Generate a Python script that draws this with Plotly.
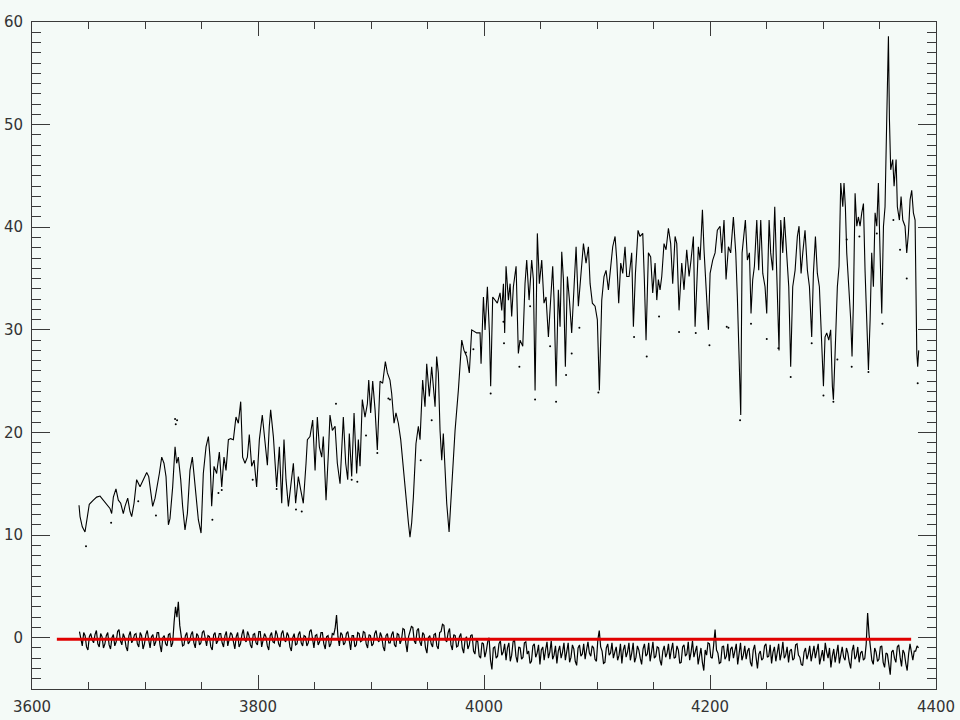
import plotly.graph_objects as go

# ---------------- data ----------------
# main spectrum: wavelength (Angstrom) and flux
spec_wave = [
    3641.6, 3642.5, 3644.5, 3646.9, 3649.0, 3650.7, 3654.3, 3657.2, 3660.2, 3663.1,
    3666.1, 3669.0, 3670.5, 3672.0, 3674.3, 3676.4, 3678.5, 3680.8, 3682.3, 3684.7,
    3686.7, 3688.2, 3690.3, 3692.6, 3695.6, 3698.5, 3701.5, 3703.3, 3705.0, 3706.8,
    3708.9, 3710.3, 3712.7, 3714.8, 3716.8, 3718.6, 3720.7, 3722.1, 3724.5, 3726.6,
    3728.0, 3729.5, 3731.6, 3733.3, 3735.4, 3737.5, 3739.8, 3741.9, 3744.3, 3747.2,
    3749.6, 3751.6, 3754.0, 3756.1, 3757.5, 3759.0, 3761.1, 3763.4, 3765.8, 3767.9,
    3769.9, 3771.7, 3773.8, 3775.8, 3778.2, 3780.5, 3782.6, 3784.7, 3786.4, 3788.5,
    3790.6, 3792.3, 3794.4, 3796.5, 3798.8, 3801.2, 3803.8, 3806.2, 3808.3, 3810.0,
    3811.2, 3813.6, 3816.5, 3818.9,
    3821.0, 3823.0, 3824.8, 3826.9, 3828.9, 3831.3, 3833.3, 3835.7, 3837.8, 3840.1,
    3842.5, 3843.7, 3846.0, 3848.4, 3850.5, 3852.5, 3854.3, 3856.4, 3857.8, 3860.2,
    3862.3, 3863.7, 3865.8, 3868.2, 3870.2, 3872.6, 3875.5, 3877.6, 3879.4, 3880.8,
    3882.9, 3885.0, 3887.3, 3888.8, 3890.3, 3892.3, 3894.7, 3896.8, 3898.0, 3899.7,
    3901.5, 3903.6, 3905.6, 3908.0, 3910.3, 3912.7, 3914.5, 3916.8, 3918.3, 3920.4,
    3922.1, 3924.2, 3926.3, 3928.6, 3931.0, 3933.1, 3934.5, 3936.0, 3937.5, 3939.8,
    3941.9, 3943.4, 3945.7, 3947.8, 3949.3, 3951.6, 3953.7, 3955.2, 3956.7, 3958.1,
    3959.6, 3961.1, 3962.6, 3964.0, 3965.5, 3967.0, 3969.1, 3970.5, 3972.3, 3974.4,
    3977.3, 3980.3, 3982.3, 3984.7, 3987.0, 3989.1, 3993.5,
    3996.5, 3997.4, 3999.5, 4000.9, 4003.0, 4004.8, 4005.9, 4007.7, 4009.8, 4011.8,
    4014.2, 4015.7, 4017.2, 4018.3, 4019.5, 4021.6, 4023.1, 4024.5, 4026.0, 4028.4,
    4030.4, 4031.9, 4034.3, 4036.3, 4037.8, 4039.9, 4042.2, 4043.7, 4045.2, 4047.2,
    4049.0, 4051.1, 4053.1, 4054.9, 4057.0, 4059.0, 4060.8, 4062.0, 4063.8, 4065.8,
    4067.3, 4068.8, 4070.3, 4072.0, 4073.8, 4075.6, 4077.6, 4079.7, 4081.5, 4083.5,
    4085.6, 4088.0, 4090.3, 4092.4, 4093.9, 4095.9, 4098.3, 4100.3, 4102.1, 4104.2,
    4106.2, 4108.0, 4110.1, 4112.1, 4113.9, 4116.0, 4117.5, 4119.2, 4121.0, 4122.8,
    4124.8, 4126.3, 4128.4, 4130.7, 4132.2, 4134.0, 4136.3, 4138.1, 4140.5, 4141.9,
    4143.4, 4145.5, 4147.5, 4149.3, 4151.4, 4152.9, 4154.3, 4155.8, 4157.3, 4159.3,
    4161.1, 4163.2, 4165.2, 4167.0, 4169.1, 4170.6, 4172.6, 4175.0, 4177.0, 4179.4,
    4181.5, 4183.2, 4185.3, 4186.8, 4188.3, 4189.7, 4191.2, 4193.3, 4194.7, 4196.5,
    4198.6, 4200.1, 4202.4, 4204.5, 4206.5,
    4208.9, 4210.4, 4212.4, 4214.2, 4216.3, 4218.3, 4220.7, 4222.8, 4224.2, 4226.0,
    4227.2, 4228.4, 4230.1, 4231.3, 4233.1, 4234.9, 4236.3, 4237.8, 4239.3, 4241.4,
    4243.1, 4244.9, 4246.7, 4248.7, 4250.2, 4252.3, 4253.7, 4255.5, 4257.3, 4258.5,
    4259.6, 4261.1, 4262.6, 4264.4, 4265.8, 4267.9, 4269.7, 4271.4, 4273.2, 4275.3,
    4277.3, 4278.8, 4280.6, 4282.1, 4284.1, 4286.2, 4288.0, 4290.0, 4291.5, 4293.3,
    4295.0, 4296.8, 4298.9, 4300.4, 4301.8, 4303.3, 4305.1, 4306.8, 4308.3, 4309.2,
    4310.7, 4312.7, 4314.2, 4315.7, 4317.5, 4318.6, 4319.8, 4321.0, 4322.8, 4324.5,
    4325.7, 4326.9, 4328.4, 4329.9, 4331.3, 4332.8, 4334.3, 4335.8, 4337.2, 4338.7,
    4340.2, 4341.7, 4343.1, 4344.6, 4346.1, 4347.6, 4349.0, 4350.5, 4352.0, 4353.5,
    4354.9, 4356.4, 4357.9, 4358.8, 4359.9, 4361.7, 4362.9, 4364.7, 4365.8, 4367.6,
    4369.1, 4370.6, 4372.6, 4374.1, 4375.6, 4377.1, 4378.5, 4380.0, 4381.5, 4383.0,
    4383.8, 4384.7,
]
spec_flux = [
    12.9, 11.8, 10.8, 10.3, 11.8, 13.0, 13.4, 13.7, 13.8, 13.4,
    13.1, 12.6, 12.1, 13.7, 14.5, 13.4, 13.1, 12.1, 12.8, 13.6,
    12.3, 11.8, 13.1, 15.4, 14.7, 15.4, 16.1, 15.7, 14.1, 12.8,
    13.6, 14.4, 16.0, 17.6, 17.0, 15.7, 11.0, 11.6, 14.7, 18.6,
    17.0, 17.6, 15.4, 12.8, 10.5, 12.1, 16.3, 17.6, 14.7, 11.5,
    10.2, 16.0, 18.6, 19.6, 17.6, 12.8, 16.7, 16.0, 18.1, 14.7,
    17.6, 16.3, 19.3, 19.4, 19.3, 21.5, 20.9, 23.0, 17.6, 17.0,
    17.6, 19.8, 16.7, 17.3, 14.7, 19.3, 21.7, 19.3, 16.8, 20.6,
    22.2, 19.6, 14.7, 18.6,
    13.1, 19.3, 15.4, 12.8, 15.0, 17.0, 13.1, 15.7, 14.4, 13.1,
    17.0, 19.3, 19.6, 21.2, 16.3, 21.5, 18.6, 17.6, 19.6, 13.4,
    18.0, 21.7, 20.2, 20.6, 17.0, 15.0, 21.5, 17.0, 15.4, 19.9,
    15.7, 21.9, 16.0, 19.3, 16.7, 23.2, 21.5, 22.8, 25.1, 21.9,
    25.0, 22.2, 18.3, 25.0, 24.8, 26.9, 25.8, 25.1, 23.8, 20.9,
    21.9, 20.9, 19.3, 16.3, 13.7, 11.2, 9.8, 11.2, 13.7, 18.9,
    20.6, 19.3, 25.1, 22.5, 26.7, 23.5, 26.4, 24.1, 22.5, 27.4,
    25.8, 20.2, 17.3, 19.9, 16.0, 13.1, 10.3, 13.1, 16.3, 20.2,
    24.1, 29.0, 28.0, 27.4, 25.8, 30.0, 29.7,
    29.7, 26.7, 33.2, 30.0, 34.2, 29.7, 24.5, 33.2, 32.9, 32.6,
    33.6, 31.9, 34.5, 29.7, 36.2, 32.9, 34.5, 31.3, 34.2, 36.2,
    27.7, 29.0, 28.4, 34.5, 36.8, 32.9, 36.8, 34.9, 24.1, 39.4,
    34.5, 36.8, 32.6, 33.2, 29.3, 32.9, 36.2, 32.9, 24.5, 33.9,
    30.3, 37.6, 34.9, 26.4, 35.2, 32.9, 29.7, 34.2, 38.1, 32.3,
    35.2, 38.4, 36.5, 38.1, 34.5, 32.6, 32.3, 31.0, 24.1, 32.9,
    35.2, 35.8, 33.9, 36.2, 38.1, 39.1, 36.8, 32.6, 36.5, 35.5,
    38.1, 35.2, 35.2, 37.5, 30.3, 35.5, 39.7, 39.1, 39.4, 34.9,
    29.0, 37.5, 37.1, 33.6, 36.5, 32.9, 34.9, 33.9, 35.2, 38.4,
    37.8, 39.9, 38.4, 34.5, 39.1, 38.4, 31.9, 36.5, 33.9, 37.8,
    35.2, 36.8, 39.1, 30.3, 33.6, 38.1, 36.8, 41.7, 37.8, 34.5,
    30.0, 35.5, 36.8, 37.5, 39.7,
    40.1, 37.5, 40.7, 34.9, 38.1, 37.5, 41.0, 37.5, 33.2, 26.1,
    21.7, 37.5, 39.1, 40.7, 36.8, 37.5, 31.6, 34.9, 36.2, 40.7,
    35.8, 40.7, 35.5, 34.2, 31.6, 40.7, 37.5, 35.8, 42.0, 37.5,
    34.2, 28.0, 40.7, 37.5, 41.0, 36.8, 34.2, 26.4, 34.2, 35.8,
    39.1, 40.1, 35.5, 37.5, 39.7, 35.8, 34.2, 29.3, 35.5, 39.1,
    35.5, 34.2, 28.4, 24.5, 29.3, 29.7, 29.0, 30.0, 24.5, 23.2,
    27.7, 34.2, 36.2, 44.3, 42.0, 44.3, 42.0, 37.5, 34.2, 31.0,
    27.4, 32.6, 43.3, 40.1, 41.0, 40.1, 41.4, 42.3, 35.8, 31.0,
    26.1, 31.0, 37.5, 34.2, 41.4, 40.1, 44.3, 37.5, 31.6, 40.1,
    42.0, 50.5, 58.6, 50.5, 45.6, 46.6, 44.0, 46.6, 42.0, 40.7,
    43.0, 40.7, 40.1, 37.5, 39.4, 42.7, 43.6, 41.4, 40.7, 27.7,
    26.4, 28.0,
]

# scattered dots drawn around the spectrum (second data set, plotted as points)
dot_wave = [
    3647.8, 3670.0, 3694.0, 3709.7, 3726.6, 3727.2, 3728.4, 3759.6, 3765.0, 3767.9,
    3795.3, 3816.5, 3833.6, 3838.7, 3869.0, 3882.9, 3887.9, 3895.6, 3905.6, 3915.4,
    3916.8, 3944.0, 3953.7, 3984.0, 3990.6, 4005.9, 4017.2, 4017.7, 4031.3, 4040.8,
    4045.2, 4058.5, 4063.8, 4072.6, 4077.6, 4084.4, 4101.2, 4132.8, 4144.0, 4154.9,
    4172.6, 4187.4, 4199.5, 4214.8, 4216.3, 4226.6, 4236.3, 4250.2, 4260.5, 4271.4,
    4290.0, 4300.4, 4309.2, 4312.7, 4321.0, 4325.4, 4332.2, 4340.2, 4347.6, 4352.6,
    4362.3, 4368.2, 4374.1, 4383.8,
]
dot_flux = [
    8.9, 11.2, 13.3, 11.9, 21.3, 20.8, 21.2, 11.5, 14.1, 14.4,
    15.4, 14.5, 12.5, 12.3, 22.8, 15.4, 15.2, 19.7, 18.0, 23.3,
    23.2, 17.3, 21.2, 27.8, 28.1, 23.8, 30.8, 28.7, 26.4, 32.3,
    23.2, 28.4, 23.0, 25.6, 27.7, 30.2, 23.9, 29.3, 27.4, 31.3,
    29.8, 29.7, 28.5, 30.3, 30.2, 21.2, 30.6, 29.1, 28.2, 25.4,
    28.7, 23.6, 23.0, 27.1, 38.8, 26.4, 39.1, 25.9, 39.4, 30.6,
    40.7, 37.8, 35.0, 24.8,
]

# residuals: sampled every 1.25 A starting at 3642 A
res_start = 3642.0
res_step = 1.25
res_flux = [
    0.6, -0.3, -0.8, 0.5, 0.2, -0.9, -1.2, 0.1, 0.4, -0.2, -0.5, 0.3, 0.7, -0.6, -0.9, 0.4, 0.1, -1.0, -0.6, 0.2,
    0.5, -0.7, -1.1, 0.0, 0.3, -0.8, -0.4, 0.6, 0.8, -0.3, -0.7, 0.4, 0.0, -0.9, -1.3, 0.2, 0.6, -0.5, -0.2, 0.3,
    0.4, -0.6, -0.9, 0.5, 0.2, -1.1, -0.6, 0.3, 0.7, -0.2, -1.0, 0.1, 0.3, -0.8, -0.4, 0.5, 0.5, -0.7, -1.4, 0.0,
    0.2, -0.6, -0.8, 0.3, 0.4, -0.9, -0.5, 1.5, 3.0, 2.0, 3.5, 1.2, 0.3, -0.8, -0.7, 0.2, 0.5, -0.6, -0.4, 0.3,
    0.6, -0.5, -1.0, 0.4, 0.2, -0.7, -0.5, 0.5, 0.7, -0.3, -0.8, 0.2, 0.1, -0.9, -1.2, 0.3, 0.5, -0.6, -0.3, 0.4,
    0.4, -0.5, -0.9, 0.2, 0.6, -0.8, -0.2, 0.5, 0.3, -0.6, -1.1, 0.1, 0.5, -0.9, -0.6, 0.3, 0.8, -0.2, -0.4, 0.6,
    0.2, -0.7, -1.0, 0.3, 0.4, -0.5, -0.7, 0.6, 0.6, -0.9, -0.3, 0.4, 0.1, -0.8, -1.2, 0.2, 0.5, -0.4, -0.5, 0.7,
    0.3, -0.6, -0.9, 0.4, 0.7, -0.2, -0.4, 0.5, 0.2, -0.9, -1.3, 0.0, 0.4, -0.7, -0.6, 0.3, 0.6, -0.5, -0.8, 0.2,
    0.1, -0.8, -0.5, 0.6, 0.8, -0.4, -1.0, 0.2, 0.3, -0.7, -0.4, 0.5, 0.5, -0.6, -1.1, 0.1, 0.2, -0.9, -0.6, 0.4,
    0.3, 0.9, 2.2, 0.1, -0.8, 0.5, 0.3, -0.7, -0.5, 0.4, 0.6, -0.3, -1.2, 0.2, 0.2, -0.9, -0.7, 0.5, 0.4, -0.4,
    -0.3, 0.6, 0.5, -0.6, -1.0, 0.3, 0.2, -0.8, -0.6, 0.4, 0.7, -0.2, -0.4, 0.5, 0.1, -0.9, -1.3, 0.2, 0.4, -0.5,
    -0.5, 0.3, 0.6, -0.7, -0.9, 0.4, 0.3, -0.6, -0.2, 0.9, 0.8, -0.5, -1.4, 0.1, 0.5, 1.1, 1.0, -0.3, -0.6, 0.7,
    0.9, -0.4, -0.8, 0.5, 0.3, -1.0, -1.5, 0.0, 0.2, -0.6, -0.9, 0.3, 0.4, -0.8, -1.1, 0.5, 0.6, 1.3, 1.2, -0.2,
    -0.4, 0.5, 0.9, -0.7, -1.2, 0.3, 0.2, -0.9, -0.8, 0.1, 0.4, -1.0, -1.5, -0.2, 0.1, -1.1, -0.7, 0.2, 0.3, -1.3,
    -1.6, -0.2, -0.4, -1.8, -2.0, -0.5, -0.6, -1.9, -1.3, -0.4, 0.0, -2.2, -3.1, -1.0, -0.9, -2.0, -1.8, -0.6, -0.3, -1.7,
    -1.4, -0.6, -2.2, -1.0, -0.5, -2.3, -1.7, -0.4, -0.2, -1.8, -2.4, -0.9, -1.0, -2.1, -1.9, -0.5, -0.4, -1.6, -1.3, -2.5,
    -2.3, -0.8, -0.6, -1.9, -1.5, -0.7, -2.6, -1.2, -0.9, -2.2, -1.2, -0.4, -2.0, -1.4, -0.3, -2.1, -1.7, -0.8, -2.5, -1.3,
    -0.8, -2.0, -1.4, -0.5, -2.2, -1.1, -0.5, -2.4, -1.9, -0.7, -1.1, -2.3, -2.7, -1.0, -0.7, -1.8, -1.6, -0.6, -2.1, -1.2,
    -0.4, -1.5, -1.8, -0.8, -1.0, -2.1, -2.3, -0.2, 0.7, -0.9, -1.3, -2.5, -2.4, -1.0, -0.6, -1.7, -1.5, -0.5, -2.0, -1.4,
    -0.9, -2.2, -1.7, -0.6, -2.5, -1.2, -0.7, -1.9, -1.4, -0.5, -2.2, -1.5, -0.5, -2.4, -1.9, -0.8, -1.2, -2.0, -2.6, -1.1,
    -0.6, -1.8, -1.6, -0.5, -2.3, -1.4, -0.4, -2.0, -1.8, -0.9, -1.0, -2.2, -2.7, -1.3, -0.8, -1.9, -1.5, -0.6, -2.1, -1.2,
    -0.5, -2.0, -1.9, -0.8, -1.2, -2.5, -2.4, -0.9, -0.7, -1.8, -1.6, -0.4, -2.2, -1.4, -0.3, -1.9, -1.4, -0.8, -2.6, -1.6,
    -1.0, -2.4, -3.2, -1.2, -1.7, -0.5, -0.6, -1.9, -2.0, -0.7, 0.8, -1.2, -1.5, -2.5, -2.4, -0.9, -0.8, -2.1, -1.8, -0.6,
    -2.3, -1.1, -0.9, -2.0, -1.4, -0.6, -2.6, -1.5, -0.5, -2.2, -1.7, -0.8, -2.1, -1.3, -1.0, -2.4, -2.8, -1.2, -0.7, -1.9,
    -3.0, -1.6, -1.3, -2.2, -2.0, -0.8, -0.6, -1.9, -1.8, -0.7, -2.5, -1.4, -0.9, -2.3, -1.5, -0.6, -2.2, -1.5, -0.4, -2.0,
    -1.7, -0.9, -2.4, -1.3, -1.1, -2.2, -2.0, -0.7, -0.6, -1.7, -1.9, -2.6, -2.7, -1.4, -1.0, -2.1, -1.6, -0.8, -2.3, -1.5,
    -0.8, -2.0, -1.4, -0.6, -2.6, -1.7, -1.2, -2.3, -0.5, -1.4, -2.0, -1.0, -2.9, -1.8, -1.1, -2.4, -1.7, -0.7, -2.5, -1.6,
    -0.9, -1.9, -2.2, -1.0, -1.5, -2.4, -3.0, -1.3, -0.7, -2.1, -1.8, -0.9, -2.4, -1.5, -1.3, -2.2, -2.0, -0.6, 2.4, 0.3,
    -1.1, -2.2, -2.6, -1.0, -1.4, -2.3, -2.1, -0.9, -0.8, -2.4, -2.9, -1.5, -1.6, -2.7, -3.6, -1.4, -1.2, -2.0, -2.4, -0.9,
    -0.7, -1.9, -2.8, -1.2, -1.5, -2.5, -3.2, -1.6, -0.6, -1.4, -2.2, -1.3, -1.3, -0.8, -1.0,
]
res_wave = [res_start + res_step * i for i in range(len(res_flux))]

# zero reference line
zero_wave = [3622, 4378]
zero_level = [-0.15, -0.15]

x_ticks = [3600, 3800, 4000, 4200, 4400]
y_ticks = [0, 10, 20, 30, 40, 50, 60]

# ---------------- figure ----------------
BG = "#f4faf7"
AX = "#3a3a3a"

fig = go.Figure()
fig.add_trace(go.Scatter(x=dot_wave, y=dot_flux, mode="markers",
                         marker=dict(color="black", size=2), hoverinfo="skip"))
fig.add_trace(go.Scatter(x=spec_wave, y=spec_flux, mode="lines",
                         line=dict(color="black", width=1.1), hoverinfo="skip"))
fig.add_trace(go.Scatter(x=res_wave, y=res_flux, mode="lines",
                         line=dict(color="black", width=1.2), hoverinfo="skip"))
fig.add_trace(go.Scatter(x=zero_wave, y=zero_level, mode="lines",
                         line=dict(color="#e00000", width=3), hoverinfo="skip"))

font = dict(family="DejaVu Sans", size=15, color="#333333")
fig.update_layout(
    width=960, height=720,
    margin=dict(l=32, r=24, t=22, b=31, autoexpand=False),
    paper_bgcolor=BG, plot_bgcolor=BG,
    showlegend=False,
    font=font,
    xaxis=dict(range=[3600, 4400], tickvals=x_ticks, ticktext=[str(v) for v in x_ticks],
               automargin=False,
               showgrid=False, zeroline=False, showline=True, linecolor=AX, linewidth=1,
               mirror="ticks", ticks="inside", ticklen=14, tickcolor=AX, tickwidth=1,
               minor=dict(dtick=50, tick0=3600, ticks="inside", ticklen=7, tickcolor=AX,
                          showgrid=False),
               tickfont=font, ticklabelstandoff=4),
    yaxis=dict(range=[-5, 60], tickvals=y_ticks, ticktext=[str(v) for v in y_ticks],
               automargin=False,
               showgrid=False, zeroline=False, showline=True, linecolor=AX, linewidth=1,
               mirror="ticks", ticks="inside", ticklen=18, tickcolor=AX, tickwidth=1,
               minor=dict(dtick=1, tick0=0, ticks="inside", ticklen=9, tickcolor=AX,
                          showgrid=False),
               tickfont=font, ticklabelstandoff=5),
)

fig.write_html(
    "out.html",
    config={"displayModeBar": False},
    post_script="document.body.style.margin='0';document.body.style.background='%s';" % BG,
)
